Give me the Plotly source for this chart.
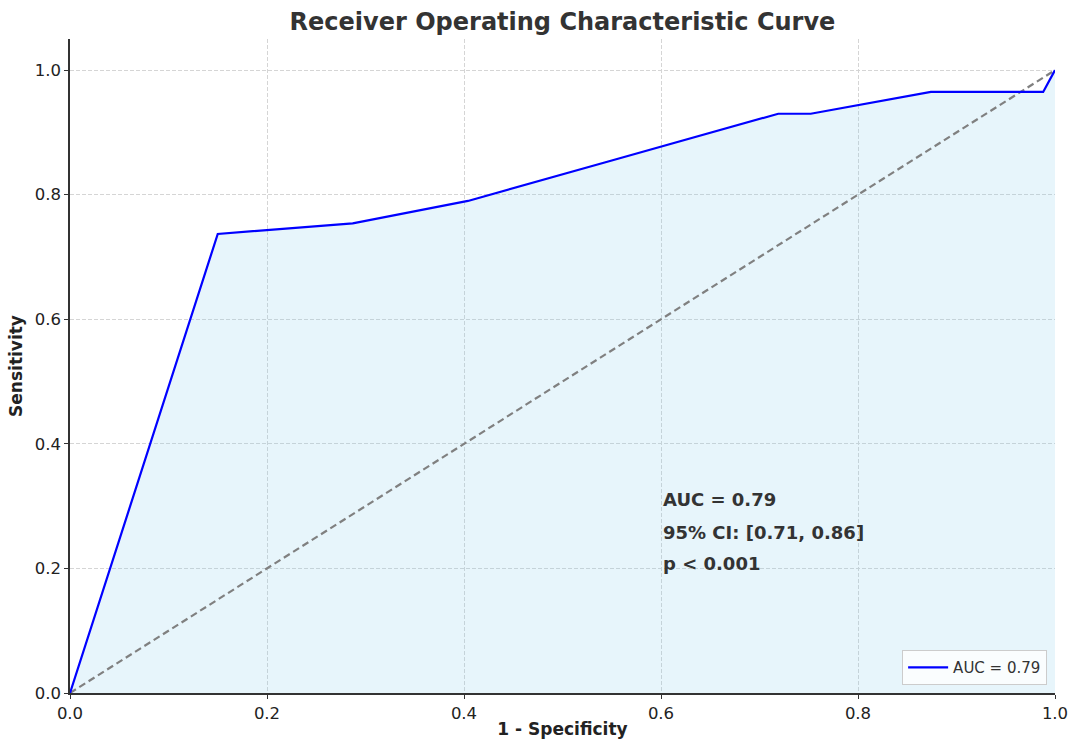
import plotly.graph_objects as go

fpr = [0.0, 0.150, 0.287, 0.404, 0.550, 0.719, 0.752, 0.874, 0.988, 1.0]
tpr = [0.0, 0.737, 0.754, 0.790, 0.855, 0.930, 0.930, 0.965, 0.965, 1.0]
diag = [0.0, 1.0]
ticks = [0.0, 0.2, 0.4, 0.6, 0.8, 1.0]
tick_labels = ["0.0", "0.2", "0.4", "0.6", "0.8", "1.0"]
auc_text = ["AUC = 0.79", "95% CI: [0.71, 0.86]", "p < 0.001"]
text_y = [0.31, 0.258, 0.208]

FONT = "DejaVu Sans"
fig = go.Figure()
fig.add_trace(go.Scatter(x=fpr, y=tpr, mode="lines", fill="tozeroy",
                         fillcolor="rgba(135,206,235,0.2)", line=dict(width=0),
                         showlegend=False, hoverinfo="skip"))
fig.add_trace(go.Scatter(x=diag, y=diag, mode="lines", showlegend=False,
                         line=dict(color="gray", width=2.2, dash="7px,4px")))
fig.add_trace(go.Scatter(x=fpr, y=tpr, mode="lines", name="AUC = 0.79",
                         line=dict(color="blue", width=2.2)))

for t, yy in zip(auc_text, text_y):
    fig.add_annotation(x=0.6, y=yy, text="<b>" + t + "</b>", showarrow=False,
                       xanchor="left", yanchor="middle",
                       font=dict(family=FONT, size=18, color="#333333"))

axis_common = dict(showline=True, linecolor="#333333", linewidth=1.5,
                   ticks="outside", ticklen=4, tickwidth=1.2, tickcolor="#333333",
                   showgrid=True, gridcolor="#d5d5d5", gridwidth=1, griddash="4px,2px",
                   zeroline=False, mirror=False, automargin=False,
                   tickfont=dict(family=FONT, size=16.5, color="#222222"),
                   tickvals=ticks, ticktext=tick_labels)

fig.update_xaxes(range=[0, 1], title=dict(text="<b>1 - Specificity</b>", standoff=8,
                 font=dict(family=FONT, size=17, color="#222222")), **axis_common)
fig.update_yaxes(range=[0, 1.05], title=dict(text="<b>Sensitivity</b>", standoff=8,
                 font=dict(family=FONT, size=17, color="#222222")), **axis_common)

fig.update_layout(
    width=1070, height=739,
    margin=dict(l=70, r=15, t=39, b=46),
    plot_bgcolor="white", paper_bgcolor="white",
    title=dict(text="<b>Receiver Operating Characteristic Curve</b>", x=0.5257, xanchor="center",
               y=0.971, yanchor="middle",
               font=dict(family=FONT, size=24, color="#333333")),
    legend=dict(x=0.992, y=0.012, xanchor="right", yanchor="bottom",
                bgcolor="rgba(255,255,255,0.8)", bordercolor="#cccccc", borderwidth=1,
                itemwidth=40,
                font=dict(family=FONT, size=15, color="#333333")),
)

fig.write_html("out.html")
